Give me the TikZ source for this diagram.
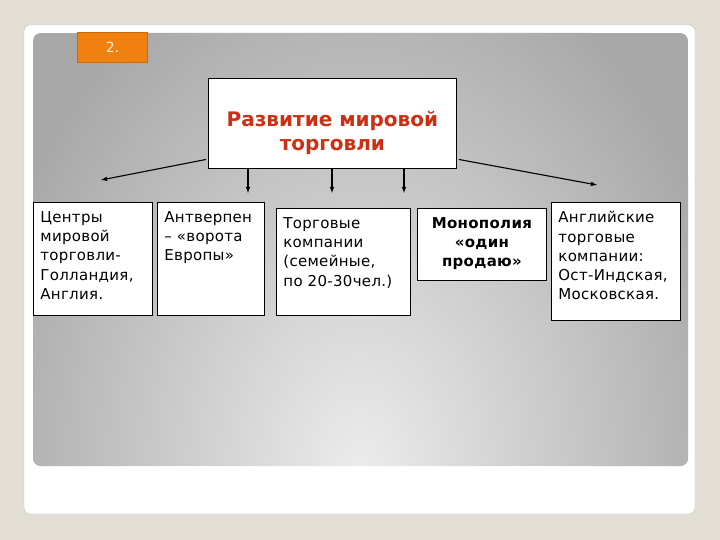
\documentclass[tikz,border=0pt]{standalone}
\usepackage{fontspec}
\setmainfont{DejaVu Sans}
\newfontfamily\boxfont{DejaVu Sans}[LetterSpace=2]
\usetikzlibrary{arrows}

\definecolor{pagebg}{RGB}{227,222,211}
\definecolor{tabfill}{RGB}{240,128,16}
\definecolor{tabline}{RGB}{196,108,20}
\definecolor{tabtext}{RGB}{255,240,210}
\definecolor{titlered}{RGB}{204,48,20}

% fixed size text block, text at the top
\newcommand{\cellbox}[3]{\parbox[t][#2][t]{#1}{#3}}

\begin{document}
\begin{tikzpicture}[x=1bp, y=-1bp,
    cell/.style={draw, line width=0.8bp, fill=white, anchor=north west,
      inner xsep=7bp, inner ysep=9bp, font=\boxfont\fontsize{15bp}{19.3bp}\selectfont},
    arr/.style={-latex, line width=1.1bp}]
  \useasboundingbox (0,0) rectangle (720,540);
  \fill[pagebg] (0,0) rectangle (720,540);
  \draw[gray!50, fill=white, rounded corners=6bp] (24,25) rectangle (695,514);
  \begin{scope}
    \clip[rounded corners=8bp] (33,33) rectangle (688,466);
    \fill[gray!68] (33,33) rectangle (688,466);
    \shade[inner color=gray!15, outer color=gray!68] (360,470) ellipse (390 and 540);
  \end{scope}

  % slide number
  \node[draw=tabline, line width=1.2bp, fill=tabfill, minimum width=70bp, minimum height=30bp,
    text=tabtext, font=\fontsize{14bp}{16bp}\selectfont] (num) at (112.5,47.5) {2.};

  % title
  \node[draw, line width=0.8bp, fill=white, anchor=north west, inner sep=0pt, text=titlered,
    font=\bfseries\fontsize{20bp}{24bp}\selectfont] (title) at (208,78)
    {\cellbox{248bp}{90bp}{\centering\vspace*{33bp}Развитие мировой\\торговли}};

  % boxes
  \node[cell] (centres) at (33,202) {\cellbox{105bp}{95bp}{Центры\\мировой\\торговли-\\Голландия,\\Англия.}};
  \node[cell] (antwerp) at (157,202) {\cellbox{93bp}{95bp}{Антверпен\\– «ворота\\Европы»}};
  \node[cell] (companies) at (276,208) {\cellbox{120bp}{89bp}{Торговые\\компании\\(семейные,\\по 20-30чел.)}};
  \node[cell] (monopoly) at (417,208) {\cellbox{115bp}{54bp}{\centering\bfseries Монополия\\«один\\продаю»}};
  \node[cell] (english) at (551,202) {\cellbox{115bp}{100bp}{Английские\\торговые\\компании:\\Ост-Индская,\\Московская.}};

  % arrow ends
  \coordinate (leftend) at (101,180);
  \coordinate (rightend) at (597,185);
  \coordinate (antend) at (248,193);
  \coordinate (compend) at (332,193);
  \coordinate (monoend) at (404,193);

  \draw[arr, shorten <=2bp] (title.196) -- (leftend);
  \draw[arr] (antend |- title.south) -- (antend);
  \draw[arr] (compend |- title.south) -- (compend);
  \draw[arr] (monoend |- title.south) -- (monoend);
  \draw[arr, shorten <=2bp] (title.344) -- (rightend);
\end{tikzpicture}
\end{document}
